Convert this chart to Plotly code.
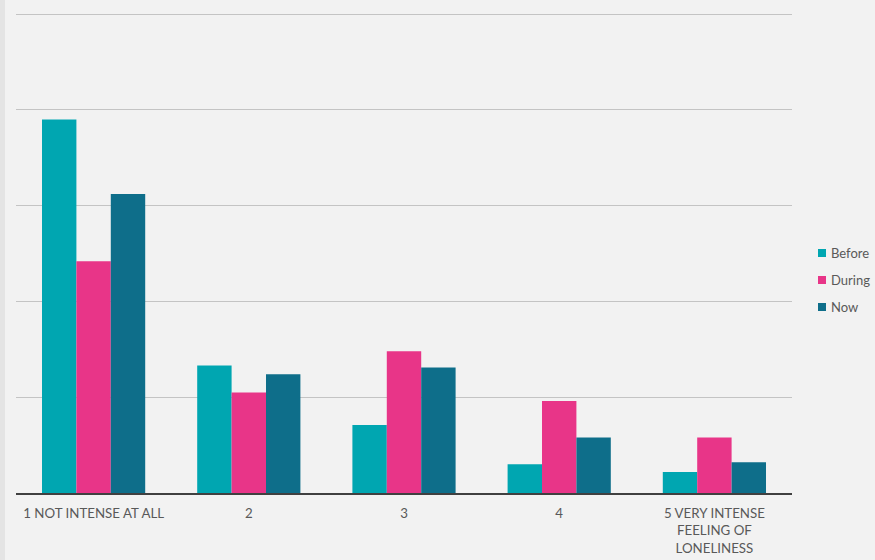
import plotly.graph_objects as go

# Feeling of loneliness: share of respondents per intensity level
categories = [
    "1 NOT INTENSE AT ALL",
    "2",
    "3",
    "4",
    "5 VERY INTENSE<br>FEELING OF<br>LONELINESS",
]
before = [39.0, 13.3, 7.1, 3.0, 2.2]
during = [24.2, 10.5, 14.8, 9.6, 5.8]
now = [31.2, 12.4, 13.1, 5.8, 3.2]

series = [
    ("Before", before, "#00A6B1"),
    ("During", during, "#E83588"),
    ("Now", now, "#0E6E8A"),
]

W, H = 875, 560
L, R, T, B = 16, 83, 12, 67
PW, PH = W - L - R, H - T - B
YMAX = 50 * PH / (PH - 2)


def px_x(px):
    return (px - L) / PW


def px_y(py):
    return (H - B - py) / PH


fig = go.Figure()
shapes = [
    dict(type="rect", xref="paper", yref="paper",
         x0=px_x(0), x1=px_x(5), y0=px_y(H), y1=px_y(0),
         fillcolor="#E4E4E4", line=dict(width=0), layer="below"),
]
annotations = []
for i, (name, vals, color) in enumerate(series):
    fig.add_trace(go.Bar(
        name=name, x=categories, y=vals, showlegend=False,
        marker=dict(color=color, line=dict(width=0)),
    ))
    # legend entry: small square plus label
    cy = 253 + 27 * i
    shapes.append(dict(
        type="rect", xref="paper", yref="paper",
        x0=px_x(818), x1=px_x(826), y0=px_y(cy + 4), y1=px_y(cy - 4),
        fillcolor=color, line=dict(width=0),
    ))
    annotations.append(dict(
        xref="paper", yref="paper", x=px_x(829), y=px_y(cy),
        xanchor="left", yanchor="middle", showarrow=False,
        text=name, font=dict(size=13, color="#595959"),
    ))

fig.update_layout(
    width=W, height=H,
    paper_bgcolor="#F2F2F2", plot_bgcolor="#F2F2F2",
    barmode="group", bargap=0.335, bargroupgap=0,
    margin=dict(l=L, r=R, t=T, b=B, autoexpand=False),
    font=dict(family="Lato, Open Sans, sans-serif", color="#595959", size=13),
    showlegend=False,
    shapes=shapes,
    annotations=annotations,
)
fig.update_xaxes(
    showgrid=False, showline=True, linecolor="#404040", linewidth=2,
    ticks="", ticklabelstandoff=7, automargin=False,
    tickfont=dict(size=13.3, color="#595959"),
)
fig.update_yaxes(
    range=[0, YMAX], dtick=10, showgrid=True, gridcolor="#C4C4C4", gridwidth=1,
    showticklabels=False, zeroline=False, showline=False, automargin=False,
)

fig.write_html("out.html")
